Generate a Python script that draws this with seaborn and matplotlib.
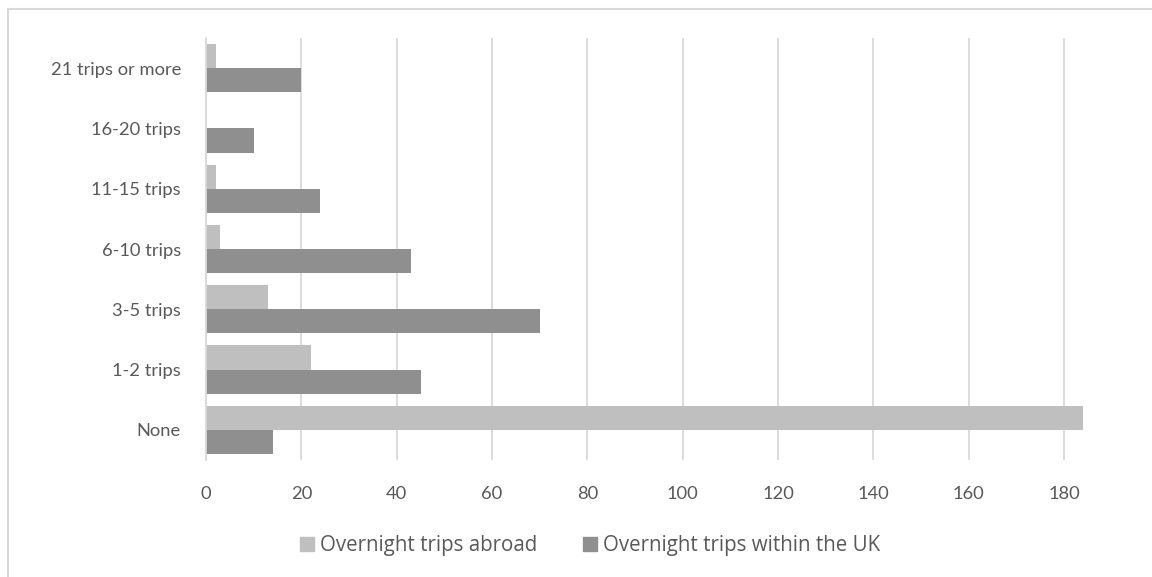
import pandas as pd
import seaborn as sns
import matplotlib.pyplot as plt
from matplotlib.patches import Rectangle

categories = ['21 trips or more', '16-20 trips', '11-15 trips', '6-10 trips',
              '3-5 trips', '1-2 trips', 'None']
abroad = [2, 0, 2, 3, 13, 22, 184]
within_uk = [20, 10, 24, 43, 70, 45, 14]
series_names = ['Overnight trips abroad', 'Overnight trips within the UK']
x_ticks = [0, 20, 40, 60, 80, 100, 120, 140, 160, 180]

rows = []
for cat, a, u in zip(categories, abroad, within_uk):
    rows.append({'Trips': cat, 'Series': series_names[0], 'Count': a})
    rows.append({'Trips': cat, 'Series': series_names[1], 'Count': u})
df = pd.DataFrame(rows)

sns.set_style('white')
plt.rcParams['font.family'] = ['Lato', 'DejaVu Sans']
text_col = '#595959'

W, H = 1152, 577
fig = plt.figure(figsize=(W / 100, H / 100), dpi=100)
ax = fig.add_axes([206 / W, 1 - 460 / H, (W - 206) / W, (460 - 38) / H])

sns.barplot(data=df, y='Trips', x='Count', hue='Series', order=categories,
            hue_order=series_names, palette=['#BFBFBF', '#8F8F8F'],
            width=0.8, saturation=1, orient='h', ax=ax, legend=False,
            linewidth=0)

ax.set_xlim(0, (W - 206) / ((1064 - 206) / 180))
ax.set_xticks(x_ticks)
ax.grid(axis='x', color='#D9D9D9', linewidth=1.3)
ax.set_axisbelow(True)
for s in ['top', 'right', 'bottom']:
    ax.spines[s].set_visible(False)
ax.spines['left'].set_color('#D9D9D9')
ax.spines['left'].set_linewidth(1.3)
ax.set_xlabel('')
ax.set_ylabel('')
ax.tick_params(axis='both', length=0, labelsize=13.2, colors=text_col)
ax.tick_params(axis='x', pad=19)
ax.tick_params(axis='y', pad=18)

# legend
handles = [Rectangle((0, 0), 1, 1, color=c) for c in ['#BFBFBF', '#8F8F8F']]
leg = fig.legend(handles, series_names, loc='center', ncol=2,
                 bbox_to_anchor=(590 / W, 1 - 546 / H), frameon=False,
                 prop={'family': ['Open Sans', 'DejaVu Sans'], 'size': 14.8},
                 handlelength=0.68, handleheight=0.68,
                 handletextpad=0.3, columnspacing=2.2, borderpad=0)
for t in leg.get_texts():
    t.set_color(text_col)

# outer chart border
fig.patches.append(Rectangle((8 / W, -0.1), 1.2, 1 - 9 / H + 0.1,
                             transform=fig.transFigure, fill=False,
                             edgecolor='#D9D9D9', linewidth=1.5))

fig.savefig('out.png', dpi=100)
